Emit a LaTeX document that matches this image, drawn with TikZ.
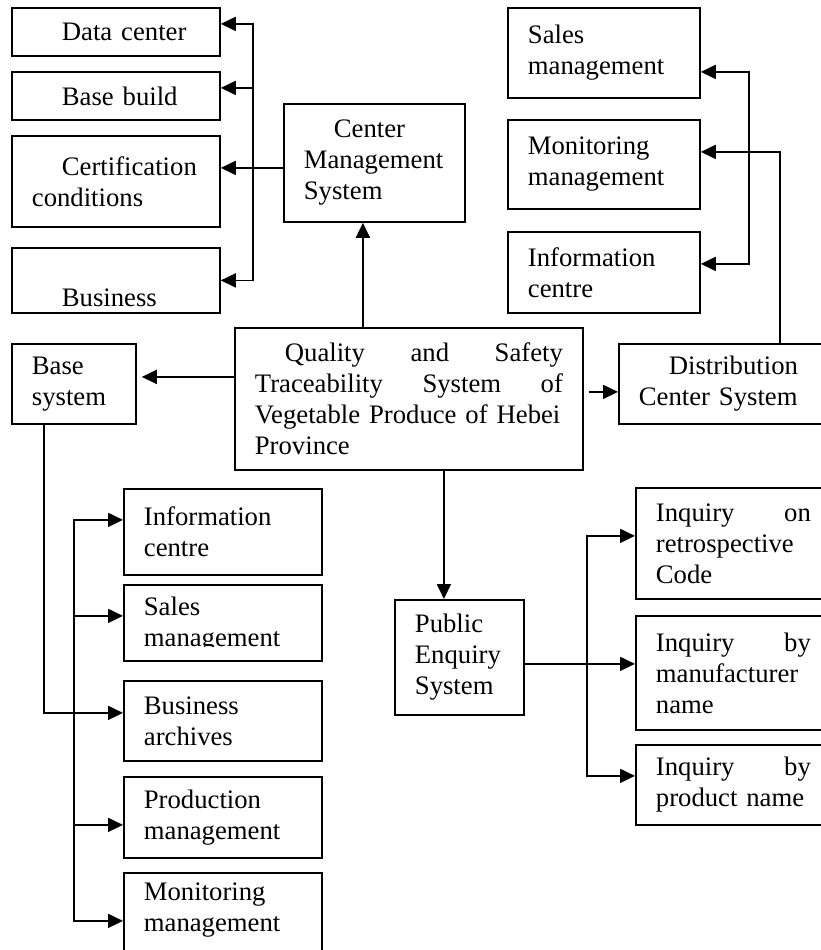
\documentclass[tikz,border=0pt]{standalone}
\usepackage{fontspec}
\setmainfont{Liberation Serif}
\usetikzlibrary{arrows.meta}
\hyphenpenalty=10000
\exhyphenpenalty=10000

\begin{document}
\begin{tikzpicture}[x=1pt, y=-1pt, line width=1.8pt, >={Triangle[length=15pt,width=14pt]},
  sysbox/.style 2 args={draw, anchor=north west, inner xsep=20pt, inner ysep=0pt, align=left,
    text width=#1pt, minimum height=#2, font=\fontsize{26.7}{31}\selectfont}]
\useasboundingbox (0,0) rectangle (821,950);
\clip (0,0) rectangle (821,950);
% centre management side
\node[sysbox={168}{48}] (dc) at (11,7) {\hspace*{30pt}Data center};
\node[sysbox={168}{48}] (bb) at (11,71) {\hspace*{30pt}Base build};
\node[sysbox={168}{91}] (cc) at (11,135) {\hspace*{30pt}Certification\\conditions};
\node[sysbox={168}{65}] (bu) at (11,247) {\strut\\\hspace*{30pt}Business};
\node[sysbox={141}{118}] (cms) at (283,103) {\hspace*{30pt}Center\\Management\\System};
% distribution side
\node[sysbox={152}{90}] (sm) at (507,7) {Sales\\management};
\node[sysbox={152}{89}] (mm) at (507,119) {Monitoring\\management};
\node[sysbox={152}{81}] (ic) at (507,231) {Information\\centre};
\node[sysbox={172}{80}] (dist) at (618,343) {\hspace*{30pt}Distribution\\Center System};
% main system
\node[sysbox={308}{142}] (main) at (234,327) {\hspace*{30pt}Quality\hfill and\hfill Safety\\Traceability\hfill System\hfill of\\Vegetable Produce of Hebei\\Province};
% base side
\node[sysbox={84}{80}] (base) at (11,343) {Base\\system};
\node[sysbox={158}{86}] (lic) at (123,488) {Information\\centre};
\node[sysbox={158}{76}] (lsm) at (123,584) {\strut Sales\\management};
\node[sysbox={158}{80}] (ba) at (123,680) {Business\\archives};
\node[sysbox={158}{81}] (pm) at (123,776) {Production\\management};
\node[sysbox={158}{108}] (lmm) at (123,872) {Monitoring\\management\\\strut};
% enquiry side
\node[sysbox={89}{115}] (pub) at (394,599) {Public\\Enquiry\\System};
\node[sysbox={155}{111}] (iq1) at (635,487) {Inquiry\hfill on\\retrospective\\Code};
\node[sysbox={155}{114}] (iq2) at (635,615) {Inquiry\hfill by\\manufacturer\\name};
\node[sysbox={155}{80}] (iq3) at (635,744) {Inquiry\hfill by\\product name};
\fill[white] ([shift={(2,-15)}]lsm.south west) rectangle ([shift={(-2,-1.9)}]lsm.south east);

\draw[->] ([xshift=-46]main.north) -- ([xshift=-11.5]cms.south);
\draw[->] ([yshift=-5]cms.west) -- ([yshift=13.5]cc.east);
\coordinate (cbus) at ([xshift=32,yshift=13.5]cc.east);
\draw[->] (cbus) |- ([yshift=8]dc.east);
\draw[->] (cbus) |- ([yshift=8]bb.east);
\draw[->] (cbus) |- (bu.east);

\draw[->] ([xshift=5,yshift=7]main.east) -- ([yshift=-8]dist.west);
\draw[->] ([xshift=55]dist.north) |- ([yshift=12.5]mm.east);
\coordinate (rbus) at ([xshift=48]mm.east);
\draw[<->] ([yshift=-19]sm.east) -| (rbus) |- ([yshift=8.5]ic.east);

\draw[->] ([yshift=22]main.west) -- ([xshift=5,yshift=7]base.east);
\draw[->] ([xshift=-30]base.south) |- ([yshift=8]ba.west);
\coordinate (lbus) at ([xshift=-49,yshift=8]ba.west);
\draw[->] (lbus) |- ([yshift=12]lic.west);
\draw[->] (lbus) |- ([yshift=7]lsm.west);
\draw[->] (lbus) |- ([yshift=-7.5]pm.west);
\draw[->] (lbus) |- ([yshift=6]lmm.west);

\draw[->] ([xshift=35]main.south) -- ([xshift=-15.5]pub.north);
\draw[->] ([yshift=-6.5]pub.east) -- ([yshift=9]iq2.west);
\coordinate (qbus) at ([xshift=-48,yshift=9]iq2.west);
\draw[->] (qbus) |- ([yshift=7.5]iq1.west);
\draw[->] (qbus) |- ([yshift=9]iq3.west);
\end{tikzpicture}
\end{document}
